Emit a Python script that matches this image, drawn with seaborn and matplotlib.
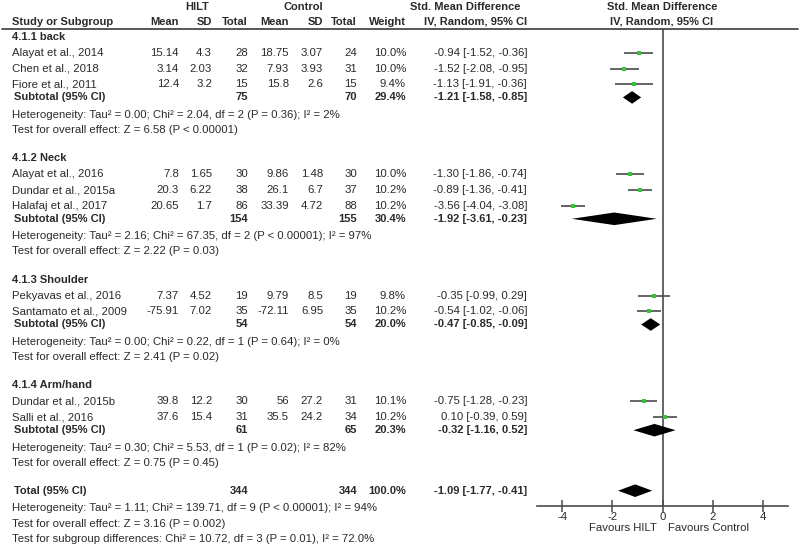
import numpy as np
import pandas as pd
import matplotlib
matplotlib.use("Agg")
import matplotlib.pyplot as plt
import seaborn as sns

# ---- data ----
groups = ["4.1.1 back", "4.1.2 Neck", "4.1.3 Shoulder", "4.1.4 Arm/hand"]

studies = ["Alayat et al., 2014", "Chen et al., 2018", "Fiore et al., 2011",
           "Alayat et al., 2016", "Dundar et al., 2015a", "Halafaj et al., 2017",
           "Pekyavas et al., 2016", "Santamato et al., 2009",
           "Dundar et al., 2015b", "Salli et al., 2016"]
study_group = [0, 0, 0, 1, 1, 1, 2, 2, 3, 3]
hilt_mean = [15.14, 3.14, 12.4, 7.8, 20.3, 20.65, 7.37, -75.91, 39.8, 37.6]
hilt_sd = [4.3, 2.03, 3.2, 1.65, 6.22, 1.7, 4.52, 7.02, 12.2, 15.4]
hilt_n = [28, 32, 15, 30, 38, 86, 19, 35, 30, 31]
ctrl_mean = [18.75, 7.93, 15.8, 9.86, 26.1, 33.39, 9.79, -72.11, 56, 35.5]
ctrl_sd = [3.07, 3.93, 2.6, 1.48, 6.7, 4.72, 8.5, 6.95, 27.2, 24.2]
ctrl_n = [24, 31, 15, 30, 37, 88, 19, 35, 31, 34]
weight = [10.0, 10.0, 9.4, 10.0, 10.2, 10.2, 9.8, 10.2, 10.1, 10.2]
smd = [-0.94, -1.52, -1.13, -1.30, -0.89, -3.56, -0.35, -0.54, -0.75, 0.10]
smd_lo = [-1.52, -2.08, -1.91, -1.86, -1.36, -4.04, -0.99, -1.02, -1.28, -0.39]
smd_hi = [-0.36, -0.95, -0.36, -0.74, -0.41, -3.08, 0.29, -0.06, -0.23, 0.59]

sub_hilt_n = [75, 154, 54, 61]
sub_ctrl_n = [70, 155, 54, 65]
sub_weight = [29.4, 30.4, 20.0, 20.3]
sub_smd = [-1.21, -1.92, -0.47, -0.32]
sub_lo = [-1.58, -3.61, -0.85, -1.16]
sub_hi = [-0.85, -0.23, -0.09, 0.52]
sub_het = ["Heterogeneity: Tau² = 0.00; Chi² = 2.04, df = 2 (P = 0.36); I² = 2%",
           "Heterogeneity: Tau² = 2.16; Chi² = 67.35, df = 2 (P < 0.00001); I² = 97%",
           "Heterogeneity: Tau² = 0.00; Chi² = 0.22, df = 1 (P = 0.64); I² = 0%",
           "Heterogeneity: Tau² = 0.30; Chi² = 5.53, df = 1 (P = 0.02); I² = 82%"]
sub_test = ["Test for overall effect: Z = 6.58 (P < 0.00001)",
            "Test for overall effect: Z = 2.22 (P = 0.03)",
            "Test for overall effect: Z = 2.41 (P = 0.02)",
            "Test for overall effect: Z = 0.75 (P = 0.45)"]

total_hilt_n = 344
total_ctrl_n = 344
total_weight = 100.0
total_smd, total_lo, total_hi = -1.09, -1.77, -0.41
total_notes = ["Heterogeneity: Tau² = 1.11; Chi² = 139.71, df = 9 (P < 0.00001); I² = 94%",
               "Test for overall effect: Z = 3.16 (P = 0.002)",
               "Test for subgroup differences: Chi² = 10.72, df = 3 (P = 0.01), I² = 72.0%"]

xticks = [-4, -2, 0, 2, 4]

# ---- style ----
sns.set_theme(style="white")
plt.rcParams['font.family'] = ['Liberation Sans', 'DejaVu Sans']
FS = 8.2
FSB = 8.0
TXT = "#2a2a2a"
LINE = "#4a4a4a"
GREEN = "#35c435"

W, H = 800, 545
fig = plt.figure(figsize=(W / 100, H / 100), dpi=100)
ax = fig.add_axes([0, 0, 1, 1])
ax.set_xlim(0, W)
ax.set_ylim(H, 0)
ax.axis("off")

top_line, axis_y = 29, 506
fx0, fx1 = 537, 788
axf = fig.add_axes([fx0 / W, (H - axis_y) / H, (fx1 - fx0) / W, (axis_y - top_line) / H])
axf.set_xlim(-5, 5)
axf.set_ylim(axis_y, top_line)
axf.patch.set_alpha(0)

# column x positions (right aligned except names)
x_name = 12
cols = {"hm": 179, "hsd": 212, "hn": 248, "cm": 289, "csd": 323, "cn": 357, "w": 406, "ci": 527}


def t(x, y, s, ha="right", bold=False):
    ax.text(x, y, s, ha=ha, va="center", fontsize=FSB if bold else FS, color=TXT,
            fontweight="bold" if bold else "normal")


def ci_str(m, lo, hi):
    return f"{m:.2f} [{lo:.2f}, {hi:.2f}]"


# header
t(197, 7, "HILT", ha="center", bold=True)
t(303, 7, "Control", ha="center", bold=True)
t(465, 7, "Std. Mean Difference", ha="center", bold=True)
t(662, 7, "Std. Mean Difference", ha="center", bold=True)
hy = 22
t(x_name, hy, "Study or Subgroup", ha="left", bold=True)
for key, lab in [("hm", "Mean"), ("hsd", "SD"), ("hn", "Total"), ("cm", "Mean"),
                 ("csd", "SD"), ("cn", "Total"), ("w", "Weight"), ("ci", "IV, Random, 95% CI")]:
    t(cols[key], hy, lab, bold=True)
t(662, hy, "IV, Random, 95% CI", ha="center", bold=True)
ax.plot([2, 798], [top_line, top_line], color=LINE, lw=1.3)

# row layout
rows = []  # (y, study index)
sub_rows = []
y = 37
for g, gname in enumerate(groups):
    t(x_name, y, gname, ha="left", bold=True)
    idx = [i for i, sg in enumerate(study_group) if sg == g]
    for k, i in enumerate(idx):
        y += 16 if k == 0 else 15.7
        rows.append((y, i))
    y += 13
    sub_rows.append((y, g))
    y += 17.5
    t(x_name, y, sub_het[g], ha="left")
    y += 15
    t(x_name, y, sub_test[g], ha="left")
    y += 28.5
total_y = y - 0.5

for ry, i in rows:
    t(x_name, ry, studies[i], ha="left")
    t(cols["hm"], ry, f"{hilt_mean[i]:g}")
    t(cols["hsd"], ry, f"{hilt_sd[i]:g}")
    t(cols["hn"], ry, f"{hilt_n[i]}")
    t(cols["cm"], ry, f"{ctrl_mean[i]:g}")
    t(cols["csd"], ry, f"{ctrl_sd[i]:g}")
    t(cols["cn"], ry, f"{ctrl_n[i]}")
    t(cols["w"], ry, f"{weight[i]:.1f}%")
    t(cols["ci"], ry, ci_str(smd[i], smd_lo[i], smd_hi[i]))

for ry, g in sub_rows:
    t(x_name + 2, ry, "Subtotal (95% CI)", ha="left", bold=True)
    t(cols["hn"], ry, f"{sub_hilt_n[g]}", bold=True)
    t(cols["cn"], ry, f"{sub_ctrl_n[g]}", bold=True)
    t(cols["w"], ry, f"{sub_weight[g]:.1f}%", bold=True)
    t(cols["ci"], ry, ci_str(sub_smd[g], sub_lo[g], sub_hi[g]), bold=True)

t(x_name + 2, total_y, "Total (95% CI)", ha="left", bold=True)
t(cols["hn"], total_y, f"{total_hilt_n}", bold=True)
t(cols["cn"], total_y, f"{total_ctrl_n}", bold=True)
t(cols["w"], total_y, f"{total_weight:.1f}%", bold=True)
t(cols["ci"], total_y, ci_str(total_smd, total_lo, total_hi), bold=True)
ny = total_y + 2
for note in total_notes:
    ny += 15.5
    t(x_name, ny, note, ha="left")

# ---- forest panel ----
df = pd.DataFrame({"y": [r[0] for r in rows],
                   "smd": [smd[r[1]] for r in rows],
                   "lo": [smd_lo[r[1]] for r in rows],
                   "hi": [smd_hi[r[1]] for r in rows]})
axf.hlines(df["y"], df["lo"], df["hi"], color=LINE, lw=1.2, zorder=2)
sns.scatterplot(data=df, x="smd", y="y", marker="s", s=11, color=GREEN,
                linewidth=0, ax=axf, zorder=3)

dh = 6.3
diamonds = [(ry, sub_smd[g], sub_lo[g], sub_hi[g]) for ry, g in sub_rows]
diamonds.append((total_y, total_smd, total_lo, total_hi))
for ry, m, lo, hi in diamonds:
    axf.fill([lo, m, hi, m], [ry, ry - dh, ry, ry + dh], color="black", lw=0, zorder=3)

axf.axvline(0, color=LINE, lw=1.2, zorder=1)
for side in ["left", "right", "top"]:
    axf.spines[side].set_visible(False)
axf.spines["bottom"].set_color(LINE)
axf.spines["bottom"].set_linewidth(1.2)
axf.set_yticks([])
axf.set_xticks(xticks)
axf.set_xticklabels([f"{v}" for v in xticks])
axf.tick_params(axis="x", direction="inout", length=8, width=1.1, color=LINE,
                pad=0, labelsize=FS, labelcolor=TXT, bottom=True)
axf.set_xlabel("")
axf.set_ylabel("")
axf.text(-0.22, 528, "Favours HILT", ha="right", va="center", fontsize=FS, color=TXT,
         transform=axf.transData, clip_on=False)
axf.text(0.22, 528, "Favours Control", ha="left", va="center", fontsize=FS, color=TXT,
         transform=axf.transData, clip_on=False)

fig.savefig("out.png", dpi=100)
